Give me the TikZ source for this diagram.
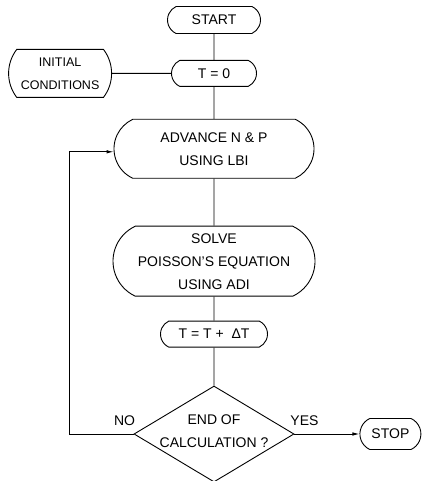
\documentclass[tikz,border=0pt]{standalone}
\usepackage{fontspec}
\setmainfont{Liberation Sans}
\usetikzlibrary{positioning,calc,shapes.misc,shapes.geometric,arrows.meta}

\begin{document}
\begin{tikzpicture}[x=1pt,y=1pt,line width=0.9pt,
				every node/.style={font=\fontsize{14}{23}\selectfont,align=center,inner sep=0pt},
				block/.style={draw,rounded rectangle,rounded rectangle arc length=130,node distance=0pt},
				decision/.style={draw,diamond,minimum width=160pt,minimum height=96pt,node distance=0pt}]
				\useasboundingbox (0,0) rectangle (423,481);
				\node (START) [block,minimum width=93pt,minimum height=27pt] at (214,461) {START};
				\node (TZERO) [block,minimum width=85pt,minimum height=26pt,below=26pt of START] {T = 0};
				\node (INIT)  [block,minimum width=103pt,minimum height=48pt,rounded rectangle arc length=75,
					font=\fontsize{12.5}{23}\selectfont,left=59pt of TZERO] {INITIAL\\CONDITIONS};
				\node (ADV)   [block,minimum width=200pt,minimum height=59pt,below=32pt of TZERO] {ADVANCE N \& P\\USING LBI};
				\node (SOLVE) [block,minimum width=202pt,minimum height=70pt,below=47pt of ADV] {SOLVE\\POISSON'S EQUATION\\USING ADI};
				\node (TINC)  [block,minimum width=107pt,minimum height=26pt,below=24pt of SOLVE] {T = T +\ \ ΔT};
				\node (DEC)   [decision,below=38pt of TINC] {};
				\node (DECTXT) at ([yshift=3pt]DEC) {END OF\\CALCULATION ?};
				\node (STOP)  [block,minimum width=61pt,minimum height=31pt,right=65pt of DEC] {STOP};
				\node (NO)  at ([shift={(-9,13)}]DEC.west) {NO};
				\node (YES) at ([shift={(10,13)}]DEC.east) {YES};
				\coordinate (LOOP) at ([xshift=-64pt]DEC.west);
				
				\draw (START) -- (TZERO);
				\draw (INIT) -- (TZERO);
				\draw (TZERO) -- (ADV);
				\draw (ADV) -- (SOLVE);
				\draw (SOLVE) -- (TINC);
				\draw (TINC) -- (DEC);
				\draw[-{Latex[length=7pt,width=3.5pt]}] (DEC.east) -- (STOP);
				\draw[-{Latex[length=7pt,width=3.5pt]}] (DEC.west) -- (LOOP) |- ([yshift=-3pt]ADV.west);
			\end{tikzpicture}
\end{document}
